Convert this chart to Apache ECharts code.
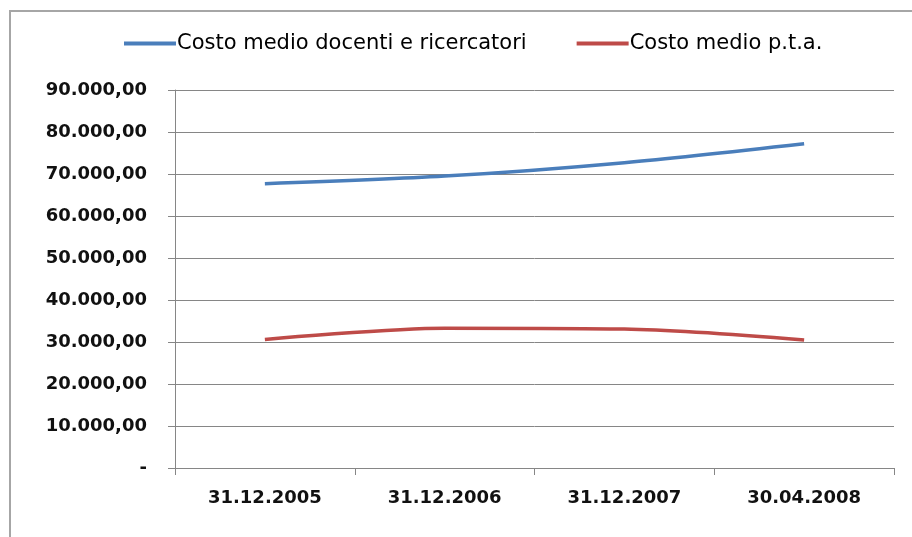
<!DOCTYPE html>
<html>
<head>
<meta charset="utf-8">
<script src="https://cdn.jsdelivr.net/npm/echarts@6/dist/echarts.min.js"></script>
<style>
html,body{margin:0;padding:0;background:#fff;}
#chart{width:912px;height:537px;}
</style>
</head>
<body>
<div id="chart"></div>
<script>
const categories = ['31.12.2005', '31.12.2006', '31.12.2007', '30.04.2008'];
const docentiValues = [67700, 69500, 72700, 77200];
const ptaValues = [30600, 33300, 33100, 30500];
const seriesNames = ['Costo medio docenti e ricercatori', 'Costo medio p.t.a.'];
const yTicks = [0, 10000, 20000, 30000, 40000, 50000, 60000, 70000, 80000, 90000];

function fmt(v) {
  if (v === 0) return '-';
  const s = Math.round(v).toString().replace(/\B(?=(\d{3})+(?!\d))/g, '.');
  return s + ',00';
}

const chart = echarts.init(document.getElementById('chart'), null, {renderer: 'canvas'});
chart.setOption({
  animation: false,
  backgroundColor: '#fff',
  graphic: [{
    type: 'rect',
    shape: {x: 10, y: 11, width: 920, height: 540},
    style: {fill: 'none', stroke: '#a6a6a6', lineWidth: 2},
    silent: true
  }],
  legend: {
    top: 33,
    left: 124,
    padding: 0,
    itemGap: 50,
    itemWidth: 52,
    itemHeight: 4,
    icon: 'rect',
    textStyle: {fontFamily: 'DejaVu Sans', fontSize: 21, color: '#000', padding: [0, 0, 0, -4]},
    data: seriesNames
  },
  grid: {left: 175, right: 18, top: 90, bottom: 69, containLabel: false},
  xAxis: {
    type: 'category',
    data: categories,
    boundaryGap: true,
    axisLine: {lineStyle: {color: '#868686', width: 1}},
    axisTick: {show: true, length: 7, lineStyle: {color: '#868686'}},
    axisLabel: {margin: 21, fontFamily: 'DejaVu Sans', fontWeight: 'bold', fontSize: 18, color: '#111'}
  },
  yAxis: {
    type: 'value',
    min: 0,
    max: 90000,
    interval: 10000,
    axisLine: {show: true, lineStyle: {color: '#868686', width: 1}},
    axisTick: {show: true, length: 7, lineStyle: {color: '#868686'}},
    splitLine: {show: true, lineStyle: {color: '#868686', width: 1}},
    axisLabel: {
      margin: 28,
      fontFamily: 'DejaVu Sans',
      fontWeight: 'bold',
      fontSize: 18,
      color: '#111',
      formatter: function (v) { return yTicks.indexOf(v) >= 0 ? fmt(v) : ''; }
    }
  },
  series: [
    {
      name: seriesNames[0],
      type: 'line',
      data: docentiValues,
      smooth: 0.3,
      symbol: 'none',
      lineStyle: {color: '#4a7ebb', width: 3.5},
      itemStyle: {color: '#4a7ebb'}
    },
    {
      name: seriesNames[1],
      type: 'line',
      data: ptaValues,
      smooth: 0.3,
      symbol: 'none',
      lineStyle: {color: '#be4b48', width: 3.5},
      itemStyle: {color: '#be4b48'}
    }
  ]
});
</script>
</body>
</html>
